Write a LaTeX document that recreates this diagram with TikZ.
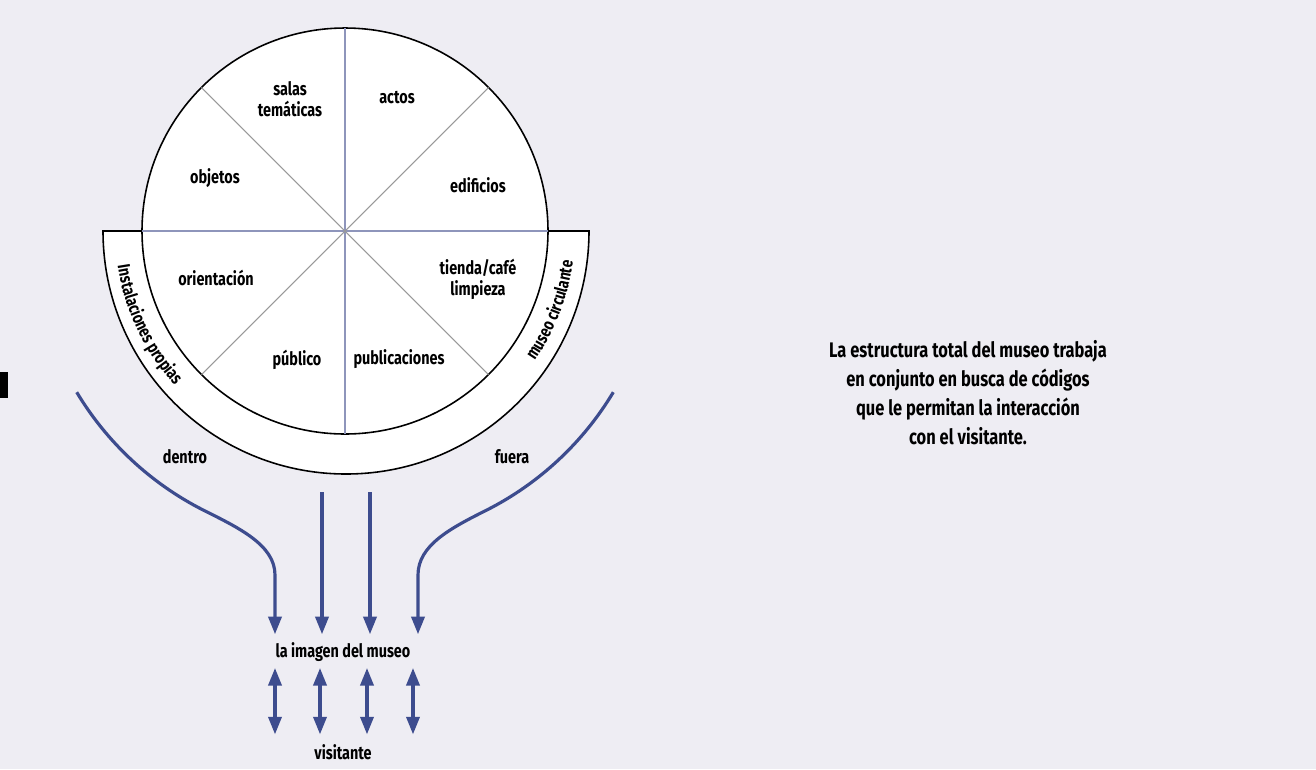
\documentclass[tikz,border=0pt]{standalone}
\usepackage{fontspec}
\setmainfont{Fira Sans}[FakeStretch=0.78]
\usetikzlibrary{positioning,arrows.meta,decorations.text}
\definecolor{museoblue}{HTML}{3D4C8E}
\definecolor{spokegray}{HTML}{8E95BB}
\definecolor{paper}{HTML}{EEEDF3}
\tikzset{
  lbl/.style={inner sep=1pt,font=\bfseries\fontsize{10.5}{12}\selectfont,align=center},
  flow/.style={museoblue,line width=1.8pt,shorten >=3.5pt,-{Triangle[length=10pt,width=7.5pt]}},
  twoway/.style={museoblue,line width=1.8pt,shorten <=2.5pt,shorten >=4.5pt,
    {Triangle[length=10pt,width=7.5pt]}-{Triangle[length=10pt,width=7.5pt]}},
  spoke/.style={spokegray,line width=0.6pt},
  rim/.style={black,line width=0.9pt,fill=white},
}

\begin{document}
\begin{tikzpicture}[x=0.02cm,y=-0.02cm]
\fill[paper] (0,0) rectangle (1316,769);
\useasboundingbox (0,0) rectangle (1316,769);
\fill[black] (0,372) rectangle (8,398);
\coordinate (hub) at (345,231);
% band and wheel
\draw[rim] (102,231) -- (589,231) arc[start angle=0,end angle=180,radius=243] -- cycle;
\draw[rim] (hub) circle[radius=203];
\draw[spoke] (345,28) -- (345,434);
\draw[spoke] (142,231) -- (548,231);
\foreach \a in {45,135}
  \draw[spoke,gray!80] (hub) ++(\a:203) -- ++({\a+180}:406);
\path[decorate,decoration={text along path,text align=center,
  text={|\bfseries\fontsize{10}{11}\selectfont|Instalaciones propias}}]
  (hub) ++(181:230) arc[start angle=181,end angle=128,radius=230];
\path[decorate,decoration={text along path,text align=center,
  text={|\bfseries\fontsize{10}{11}\selectfont|museo circulante}}]
  (hub) ++(47:230) arc[start angle=47,end angle=-5,radius=230];

\node[lbl] (salas) at (290,99) {salas\\temáticas};
\node[lbl] (actos) at (397,98) {actos};
\node[lbl] (objetos) at (215,178) {objetos};
\node[lbl] (edificios) at (478,185) {edificios};
\node[lbl] (orient) at (216,278) {orientación};
\node[lbl] (tienda) at (478,279) {tienda/café\\limpieza};
\node[lbl] (publico) at (297,360) {público};
\node[lbl] (publica) at (399,359) {publicaciones};
\node[lbl] (dentro) at (185,457) {dentro};
\node[lbl] (fuera) at (512,457) {fuera};
\node[lbl] (imagen) at (343,652) {la imagen del museo};
\node[lbl] (visit) at (343,752) {visitante};
\node[lbl,font=\bfseries\fontsize{12}{16.5}\selectfont] (nota) at (968,393)
  {La estructura total del museo trabaja\\en conjunto en busca de códigos\\que le permitan la interacción\\con el visitante.};

% flows into the image
\draw[flow] (hub) ++(149:313) arc[start angle=149,end angle=117,radius=313]
  .. controls +(36,18) and (275,545) .. (275,575) -- (275,0 |- imagen.north);
\draw[flow] (hub) ++(31:313) arc[start angle=31,end angle=63,radius=313]
  .. controls +(-36,18) and (418,545) .. (418,575) -- (418,0 |- imagen.north);
\draw[flow] (322,492) -- (322,0 |- imagen.north);
\draw[flow] (370,492) -- (370,0 |- imagen.north);
\foreach \x in {275,320,367,413}
  \draw[twoway] (\x,0 |- imagen.south) -- (\x,0 |- visit.north);
\end{tikzpicture}
\end{document}
